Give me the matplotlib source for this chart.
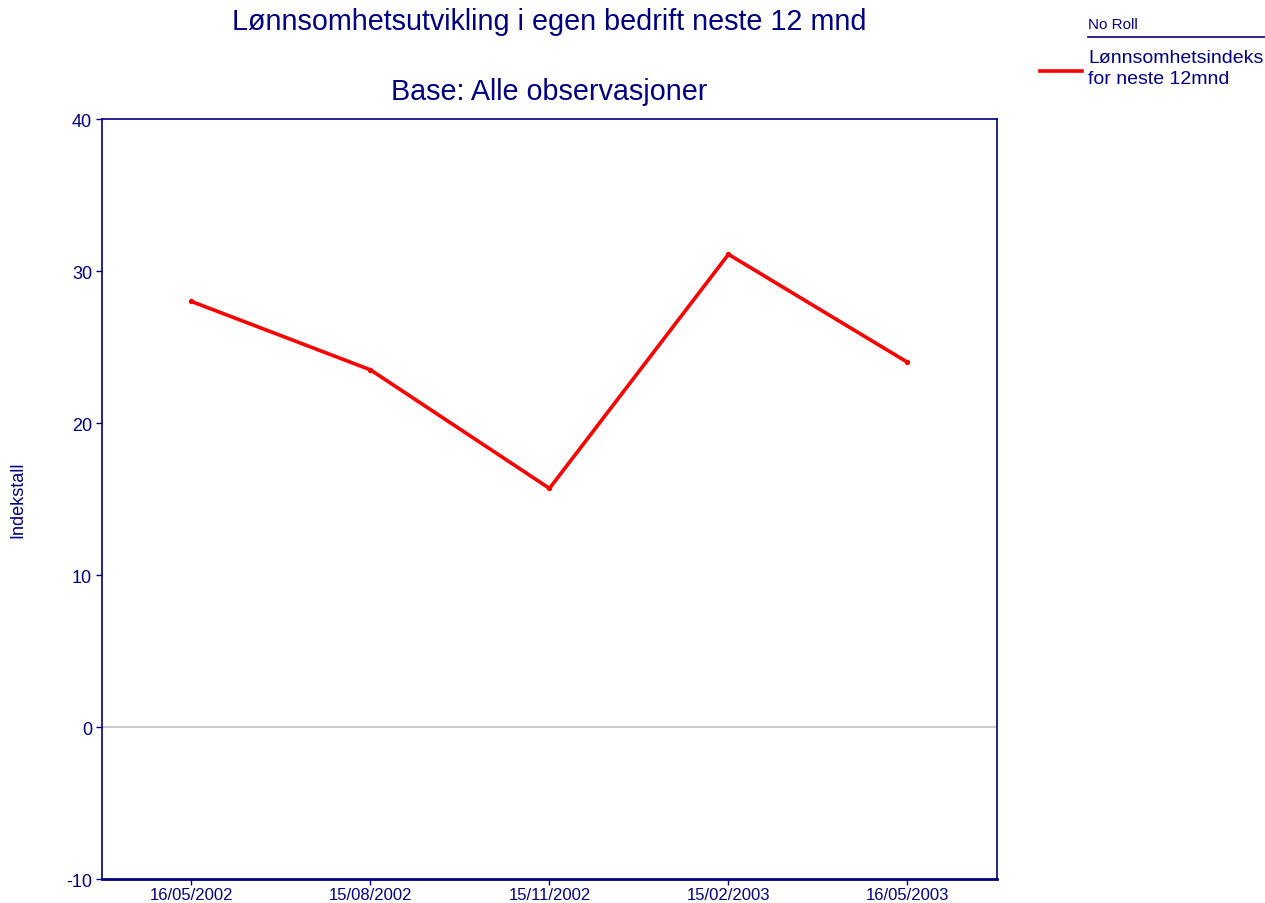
import matplotlib
matplotlib.use("Agg")
import matplotlib.pyplot as plt
from matplotlib.lines import Line2D

plt.rcParams['font.family'] = ['Liberation Sans', 'DejaVu Sans']

navy = '#000080'

# data
dates = ['16/05/2002', '15/08/2002', '15/11/2002', '15/02/2003', '16/05/2003']
index_values = [28.0, 23.5, 15.7, 31.1, 24.0]
yticks = [-10, 0, 10, 20, 30, 40]

fig = plt.figure(figsize=(12.65, 9.04), dpi=100)
ax = fig.add_axes([0.0806, 0.0265, 0.7075, 0.8407])

x = list(range(len(dates)))
ax.axhline(0, color='#c0c0c0', lw=1.2, zorder=1)
ax.plot(x, index_values, color='#ff0000', lw=2.6, zorder=3,
        marker='o', markersize=2.8, solid_joinstyle='miter')

ax.set_xlim(-0.5, len(dates) - 0.5)
ax.set_ylim(-10, 40)
ax.set_xticks(x)
ax.set_xticklabels(dates, fontsize=12, color=navy)
ax.set_yticks(yticks)
ax.set_yticklabels([str(v) for v in yticks], fontsize=13, color=navy)
ax.tick_params(axis='both', colors=navy, length=4, width=1)
ax.tick_params(axis='x', pad=2)
ax.tick_params(axis='y', pad=3)
for s in ax.spines.values():
    s.set_color(navy)
    s.set_linewidth(1.2)
ax.spines['bottom'].set_linewidth(2)

fig.text(18 / 1265, 1 - 500 / 904, 'Indekstall', rotation=90, ha='center',
         va='center', fontsize=13, color=navy)

# titles
fig.text(0.4343, 1 - 22 / 904, 'Lønnsomhetsutvikling i egen bedrift neste 12 mnd',
         ha='center', va='center', fontsize=20.7, color=navy)
fig.text(0.4343, 1 - 92 / 904, 'Base: Alle observasjoner',
         ha='center', va='center', fontsize=20.7, color=navy)

# legend
fig.text(1088 / 1265, 1 - 25 / 904, 'No Roll', ha='left', va='center',
         fontsize=11, color=navy)
fig.add_artist(Line2D([1088 / 1265, 1265 / 1265], [1 - 38 / 904, 1 - 38 / 904],
                      color=navy, lw=1.2))
fig.add_artist(Line2D([1040 / 1265, 1082 / 1265], [1 - 72 / 904, 1 - 72 / 904],
                      color='#ff0000', lw=2.6))
fig.text(1088 / 1265, 1 - 69 / 904, 'Lønnsomhetsindeks\nfor neste 12mnd',
         ha='left', va='center', fontsize=14, color=navy, linespacing=1.35)

fig.savefig('out.png', dpi=100)
